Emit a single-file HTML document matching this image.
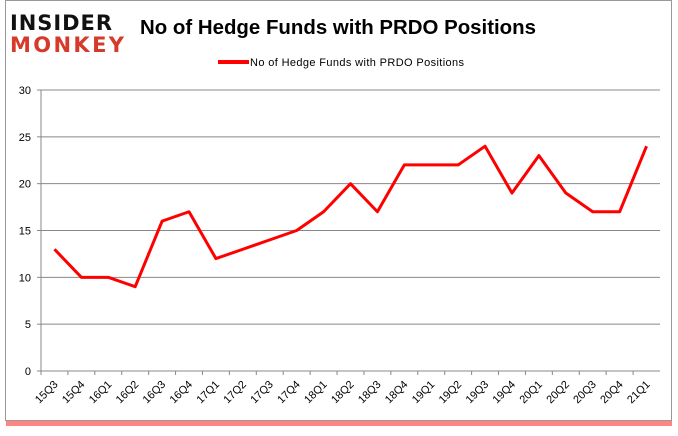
<!DOCTYPE html>
<html><head><meta charset="utf-8"><style>
body{margin:0;background:#fff;}
#c{position:absolute;left:0;top:0;width:678px;height:431px;font-family:"Liberation Sans",sans-serif;}
</style></head><body>
<div id="c">
<svg id="s" width="678" height="431" xmlns="http://www.w3.org/2000/svg">
<rect x="6" y="420" width="666" height="6" fill="#f33" opacity="0.6"/>
<rect x="5.5" y="0.5" width="666" height="420" fill="#fff" stroke="#999"/>
<g>
<text x="10" y="30" font-family="DejaVu Sans" font-weight="bold" font-size="21" fill="#111" textLength="102">INSIDER</text>
<text x="10" y="52" font-family="DejaVu Sans" font-weight="bold" font-size="21" fill="#d63a2a" textLength="114">MONKEY</text>
</g>
<text x="140" y="34" font-size="20" font-weight="bold" fill="#000" textLength="396" lengthAdjust="spacingAndGlyphs">No of Hedge Funds with PRDO Positions</text>
<line x1="218" y1="62" x2="249" y2="62" stroke="red" stroke-width="4"/>
<text x="250" y="66" font-size="11" fill="#000" textLength="214">No of Hedge Funds with PRDO Positions</text>
<g id="g"></g>
</svg></div>
<script>
const categories=["15Q3","15Q4","16Q1","16Q2","16Q3","16Q4","17Q1","17Q2","17Q3","17Q4","18Q1","18Q2","18Q3","18Q4","19Q1","19Q2","19Q3","19Q4","20Q1","20Q2","20Q3","20Q4","21Q1"];
const values=[13,10,10,9,16,17,12,13,14,15,17,20,17,22,22,22,24,19,23,19,17,17,24];
const yTicks=[0,5,10,15,20,25,30];
const NS="http://www.w3.org/2000/svg";
const g=document.getElementById('g');
const L=41,R=660,T=90,B=371;
const bw=(R-L)/categories.length;
const x=i=>L+bw*(i+0.5);
const y=v=>B-(v/30)*(B-T);
function mk(t,a){const e=document.createElementNS(NS,t);for(const k in a)e.setAttribute(k,a[k]);g.appendChild(e);return e;}
yTicks.forEach(v=>{
 if(v>0){const l=mk('line',{x1:L,x2:R,y1:y(v),y2:y(v),stroke:'#888','stroke-width':1});
 
 }
 const tk=mk('line',{x1:L-4,x2:L,y1:y(v),y2:y(v),stroke:'#888'});
 
 
 const t=mk('text',{x:L-10,y:y(v)+4,'text-anchor':'end','font-size':11,fill:'#000'});
 t.textContent=v;
 
 
});
const ax=mk('line',{x1:L,x2:R,y1:B,y2:B,stroke:'#888'});


const ay=mk('line',{x1:L,x2:L,y1:T,y2:B,stroke:'#888'});


categories.forEach((c,i)=>{
 const tk=mk('line',{x1:L+bw*i,x2:L+bw*i,y1:B,y2:B+4,stroke:'#888'});
 
 
 const cx=x(i)+4,cy=B+14;
 const t=mk('text',{x:cx,y:cy,'text-anchor':'end','font-size':11,fill:'#000',transform:`rotate(-45 ${cx} ${cy})`});
 t.textContent=c;
 
 
});
const p=mk('polyline',{points:values.map((v,i)=>x(i)+','+y(v)).join(' '),fill:'none',stroke:'red','stroke-width':3,'stroke-linejoin':'round'});


</script>
</body></html>
